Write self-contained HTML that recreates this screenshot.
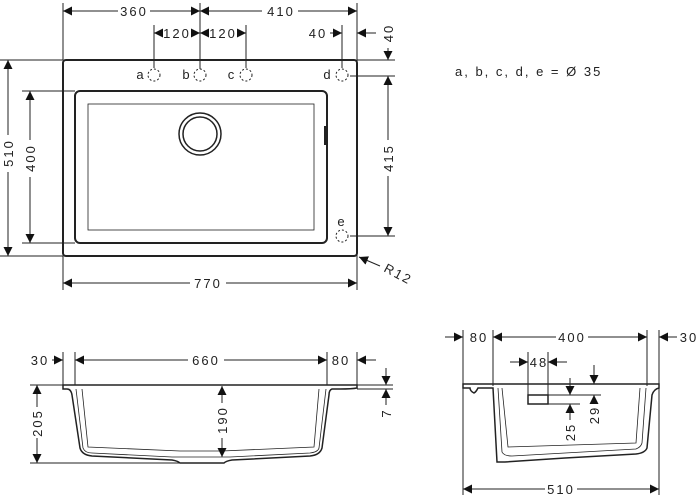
<!DOCTYPE html>
<html><head><meta charset="utf-8"><style>
html,body{margin:0;padding:0;background:#fff;}
svg{display:block;}
text{font-family:"Liberation Sans","DejaVu Sans",sans-serif;font-size:13px;fill:#222;letter-spacing:2px;}
</style></head><body>
<svg width="700" height="500" viewBox="0 0 700 500" xmlns="http://www.w3.org/2000/svg">
<defs>
<marker id="a" viewBox="0 0 10 10" refX="10" refY="5" markerWidth="9" markerHeight="9" markerUnits="userSpaceOnUse" orient="auto-start-reverse"><path d="M0,0 L10,5 L0,10 z" fill="#111"/></marker>
</defs>
<g stroke="#222" stroke-width="1" fill="none">
<!-- top view -->
<rect x="63" y="60" width="294" height="196" rx="3" stroke-width="2"/>
<rect x="75" y="91" width="252" height="152" rx="5" stroke-width="2"/>
<rect x="88" y="104" width="226" height="126" stroke-width="0.8"/>
<circle cx="200" cy="134" r="21" stroke-width="1.5"/>
<circle cx="200" cy="134" r="17" stroke-width="1.5"/>
<line x1="325" y1="126" x2="325" y2="145" stroke-width="2"/>
<g stroke-dasharray="2,2"><circle cx="154" cy="75" r="6"/><circle cx="200" cy="75" r="6"/><circle cx="246" cy="75" r="6"/><circle cx="342" cy="75" r="6"/><circle cx="342" cy="236" r="6"/></g>
<!-- ext lines -->
<line x1="63" y1="3" x2="63" y2="60"/><line x1="200" y1="3" x2="200" y2="69"/><line x1="357" y1="3" x2="357" y2="290"/>
<line x1="63" y1="256" x2="63" y2="290"/>
<line x1="154" y1="25" x2="154" y2="68"/><line x1="246" y1="25" x2="246" y2="68"/><line x1="342" y1="25" x2="342" y2="68"/>
<line x1="0" y1="60" x2="63" y2="60"/><line x1="0" y1="256" x2="63" y2="256"/>
<line x1="22" y1="91" x2="75" y2="91"/><line x1="22" y1="243" x2="75" y2="243"/>
<line x1="357" y1="60" x2="395" y2="60"/><line x1="350" y1="76" x2="395" y2="76"/><line x1="350" y1="236" x2="395" y2="236"/>
<!-- dims -->
<line x1="63" y1="11" x2="118" y2="11" marker-start="url(#a)"/><line x1="150" y1="11" x2="200" y2="11" marker-end="url(#a)"/>
<line x1="200" y1="11" x2="262" y2="11" marker-start="url(#a)"/><line x1="298" y1="11" x2="357" y2="11" marker-end="url(#a)"/>
<line x1="154" y1="33" x2="160" y2="33" marker-start="url(#a)"/><line x1="192" y1="33" x2="200" y2="33" marker-end="url(#a)"/>
<line x1="200" y1="33" x2="206" y2="33" marker-start="url(#a)"/><line x1="238" y1="33" x2="246" y2="33" marker-end="url(#a)"/>
<line x1="330" y1="33" x2="342" y2="33" marker-end="url(#a)"/>
<line x1="376" y1="33" x2="357" y2="33" marker-end="url(#a)"/>
<line x1="388" y1="48" x2="388" y2="60" marker-end="url(#a)"/>
<line x1="388" y1="76" x2="388" y2="140" marker-start="url(#a)"/><line x1="388" y1="176" x2="388" y2="236" marker-end="url(#a)"/>
<line x1="8" y1="60" x2="8" y2="135" marker-start="url(#a)"/><line x1="8" y1="172" x2="8" y2="256" marker-end="url(#a)"/>
<line x1="30" y1="91" x2="30" y2="140" marker-start="url(#a)"/><line x1="30" y1="177" x2="30" y2="243" marker-end="url(#a)"/>
<line x1="63" y1="283" x2="190" y2="283" marker-start="url(#a)"/><line x1="226" y1="283" x2="357" y2="283" marker-end="url(#a)"/>
<line x1="380" y1="266" x2="359" y2="257" marker-end="url(#a)"/>

<!-- front view -->
<path d="M63,385 L357,385 L357,388 Q352,389 340,389 L332,389 Q329,390 329,395 L322,448 Q320,455 310,456 L232,460 Q226,461 224,463 L180,463 Q178,461 172,460 L92,456 Q82,455 80,448 L72,395 Q71,389 67,389 L63,389 Z" stroke-width="1.5"/>
<path d="M76,389 L83,448 Q85,453 92,453 L172,457 L230,457 L310,453 Q318,452 319,448 L326,389" stroke-width="0.8"/>
<path d="M82,389 L88,447 L180,451 L222,451 L314,447 L319,389" stroke-width="0.8"/>
<line x1="63" y1="352" x2="63" y2="385"/><line x1="75" y1="352" x2="75" y2="385"/><line x1="327" y1="352" x2="327" y2="385"/><line x1="357" y1="352" x2="357" y2="385"/>
<line x1="30" y1="385" x2="63" y2="385"/><line x1="30" y1="463" x2="180" y2="463"/>
<line x1="357" y1="385" x2="393" y2="385"/><line x1="357" y1="389" x2="393" y2="389"/>
<line x1="75" y1="360" x2="188" y2="360" marker-start="url(#a)"/><line x1="224" y1="360" x2="327" y2="360" marker-end="url(#a)"/>
<line x1="52" y1="360" x2="63" y2="360" marker-end="url(#a)"/>
<line x1="376" y1="360" x2="357" y2="360" marker-end="url(#a)"/>
<line x1="37" y1="385" x2="37" y2="407" marker-start="url(#a)"/><line x1="37" y1="438" x2="37" y2="463" marker-end="url(#a)"/>
<line x1="222" y1="386" x2="222" y2="403" marker-start="url(#a)"/><line x1="222" y1="438" x2="222" y2="457" marker-end="url(#a)"/>
<line x1="386" y1="368" x2="386" y2="385" marker-end="url(#a)"/><line x1="386" y1="405" x2="386" y2="389" marker-end="url(#a)"/>

<!-- side view -->
<path d="M463,384 L659,384 L659,388 Q654,389 652,395 L647,448 Q645,453 636,454 L565,458 L505,462 L497,462 L493,388 L478,388 Q476,392 474,393 Q470,391 470,388 L463,388 Z" stroke-width="1.5"/>
<path d="M498,388 L502,452 Q504,456 512,456 L636,449 Q641,447 642,443 L646,388" stroke-width="0.8"/>
<path d="M502,388 L508,447 L636,443 L640,388" stroke-width="0.8"/>
<rect x="528" y="395" width="20" height="9" stroke-width="1.5"/>
<line x1="463" y1="330" x2="463" y2="495"/><line x1="493" y1="330" x2="493" y2="386"/><line x1="647" y1="330" x2="647" y2="386"/><line x1="659" y1="330" x2="659" y2="495"/>
<line x1="528" y1="352" x2="528" y2="395"/><line x1="548" y1="352" x2="548" y2="395"/>
<line x1="548" y1="395" x2="601" y2="395"/><line x1="548" y1="404" x2="580" y2="404"/>
<line x1="493" y1="337" x2="556" y2="337" marker-start="url(#a)"/><line x1="588" y1="337" x2="647" y2="337" marker-end="url(#a)"/>
<line x1="445" y1="337" x2="463" y2="337" marker-end="url(#a)"/>
<line x1="677" y1="337" x2="659" y2="337" marker-end="url(#a)"/>
<line x1="510" y1="362" x2="528" y2="362" marker-end="url(#a)"/><line x1="567" y1="362" x2="548" y2="362" marker-end="url(#a)"/>
<line x1="570" y1="378" x2="570" y2="395" marker-end="url(#a)"/><line x1="570" y1="420" x2="570" y2="404" marker-end="url(#a)"/>
<line x1="594" y1="365" x2="594" y2="384" marker-end="url(#a)"/><line x1="594" y1="402" x2="594" y2="395" marker-end="url(#a)"/>
<line x1="463" y1="489" x2="545" y2="489" marker-start="url(#a)"/><line x1="577" y1="489" x2="659" y2="489" marker-end="url(#a)"/>
</g>
<g>
<text x="134" y="16" text-anchor="middle">360</text>
<text x="281" y="16" text-anchor="middle">410</text>
<text x="177" y="38" text-anchor="middle">120</text>
<text x="223" y="38" text-anchor="middle">120</text>
<text x="318" y="38" text-anchor="middle">40</text>
<text x="208" y="288" text-anchor="middle">770</text>
<text x="141" y="79" text-anchor="middle">a</text><text x="187" y="79" text-anchor="middle">b</text><text x="232" y="79" text-anchor="middle">c</text><text x="328" y="79" text-anchor="middle">d</text><text x="342" y="226" text-anchor="middle">e</text>
<text transform="translate(393,33) rotate(-90)" text-anchor="middle">40</text>
<text transform="translate(393,158) rotate(-90)" text-anchor="middle">415</text>
<text transform="translate(13,153) rotate(-90)" text-anchor="middle">510</text>
<text transform="translate(35,158) rotate(-90)" text-anchor="middle">400</text>
<text transform="translate(383,271) rotate(28)" text-anchor="start">R12</text>
<text x="455" y="76">a, b, c, d, e = Ø 35</text>
<text x="206" y="365" text-anchor="middle">660</text>
<text x="40" y="365" text-anchor="middle">30</text>
<text x="341" y="365" text-anchor="middle">80</text>
<text transform="translate(42,423) rotate(-90)" text-anchor="middle">205</text>
<text transform="translate(227,420) rotate(-90)" text-anchor="middle">190</text>
<text transform="translate(391,413) rotate(-90)" text-anchor="middle">7</text>
<text x="572" y="342" text-anchor="middle">400</text>
<text x="479" y="342" text-anchor="middle">80</text>
<text x="689" y="342" text-anchor="middle">30</text>
<text x="539" y="367" text-anchor="middle">48</text>
<text transform="translate(575,432) rotate(-90)" text-anchor="middle">25</text>
<text transform="translate(599,415) rotate(-90)" text-anchor="middle">29</text>
<text x="561" y="494" text-anchor="middle">510</text>
</g>
</svg>
</body></html>
